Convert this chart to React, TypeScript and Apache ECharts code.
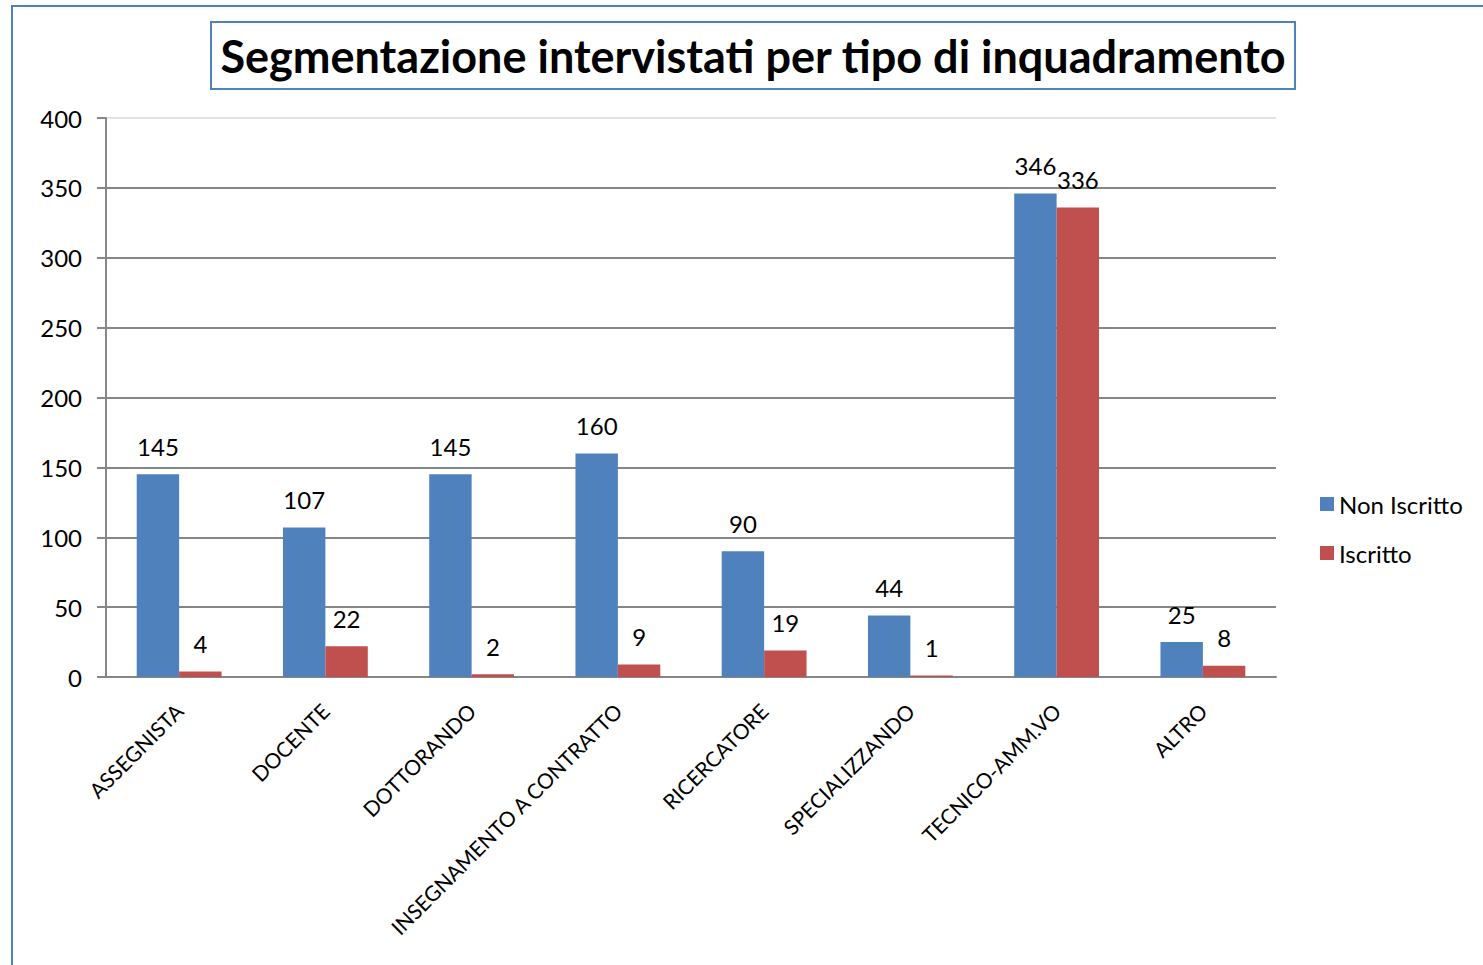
import React, { useEffect, useRef } from "react";
import * as echarts from "echarts";

const categories = [
  "ASSEGNISTA",
  "DOCENTE",
  "DOTTORANDO",
  "INSEGNAMENTO A CONTRATTO",
  "RICERCATORE",
  "SPECIALIZZANDO",
  "TECNICO-AMM.VO",
  "ALTRO",
];
const nonIscritto = [145, 107, 145, 160, 90, 44, 346, 25];
const iscritto = [4, 22, 2, 9, 19, 1, 336, 8];
const seriesNames = ["Non Iscritto", "Iscritto"];
const titleText = "Segmentazione intervistati per tipo di inquadramento";

const FONT = "Lato, 'Open Sans', sans-serif";

export default function App() {
  const ref = useRef<HTMLDivElement>(null);
  useEffect(() => {
    if (!ref.current) return;
    const chart = echarts.init(ref.current, null, { renderer: "svg" });
    const gridColors = ["#868686", "#868686", "#868686", "#868686", "#868686", "#868686", "#868686", "#868686", "#e3e3e3"];
    chart.setOption({
      animation: false,
      backgroundColor: "#ffffff",
      textStyle: { fontFamily: FONT },
      title: {
        text: titleText,
        left: 748,
        top: 28,
        textAlign: "center",
        textStyle: { fontFamily: FONT, fontSize: 45, fontWeight: "bold", color: "#000" },
      },
      graphic: [
        {
          type: "rect",
          z: -10,
          shape: { x: 12, y: 6, width: 1600, height: 1100 },
          style: { fill: "#fff", stroke: "#4F81BD", lineWidth: 2 },
        },
        {
          type: "rect",
          z: -5,
          shape: { x: 211, y: 22, width: 1084, height: 67 },
          style: { fill: "#fff", stroke: "#4F81BD", lineWidth: 2 },
        },
      ],
      legend: {
        orient: "vertical",
        left: 1315,
        top: 487,
        itemWidth: 14,
        itemHeight: 14,
        itemGap: 25,
        icon: "rect",
        textStyle: { fontFamily: FONT, fontSize: 24, color: "#000" },
        data: seriesNames,
      },
      grid: { left: 106, right: 207, top: 118, bottom: 288, containLabel: false },
      xAxis: {
        type: "category",
        data: categories,
        axisLine: { lineStyle: { color: "#868686", width: 2 } },
        axisTick: { length: 9, lineStyle: { color: "#868686", width: 2 } },
        axisLabel: { rotate: 45, margin: 30, fontSize: 21, color: "#000", fontFamily: FONT, interval: 0 },
      },
      yAxis: {
        type: "value",
        min: 0,
        max: 400,
        interval: 50,
        axisLine: { show: true, lineStyle: { color: "#868686", width: 2 } },
        axisTick: { show: true, length: 9, lineStyle: { color: "#868686", width: 2 } },
        axisLabel: { margin: 24, fontSize: 24, color: "#000", fontFamily: FONT },
        splitLine: { lineStyle: { color: gridColors, width: 2 } },
      },
      series: [
        {
          name: seriesNames[0],
          type: "bar",
          data: nonIscritto,
          barGap: "0%",
          barCategoryGap: "42%",
          itemStyle: { color: "#4F81BD" },
          label: { show: true, position: "top", distance: 16, fontSize: 24, color: "#000", fontFamily: FONT },
        },
        {
          name: seriesNames[1],
          type: "bar",
          data: iscritto,
          barGap: "0%",
          barCategoryGap: "42%",
          itemStyle: { color: "#C0504D" },
          label: { show: true, position: "top", distance: 16, fontSize: 24, color: "#000", fontFamily: FONT },
        },
      ],
    });
    return () => chart.dispose();
  }, []);
  return (
    <div
      ref={ref}
      style={{ position: "fixed", left: 0, top: 0, width: 1483, height: 965 }}
    />
  );
}
